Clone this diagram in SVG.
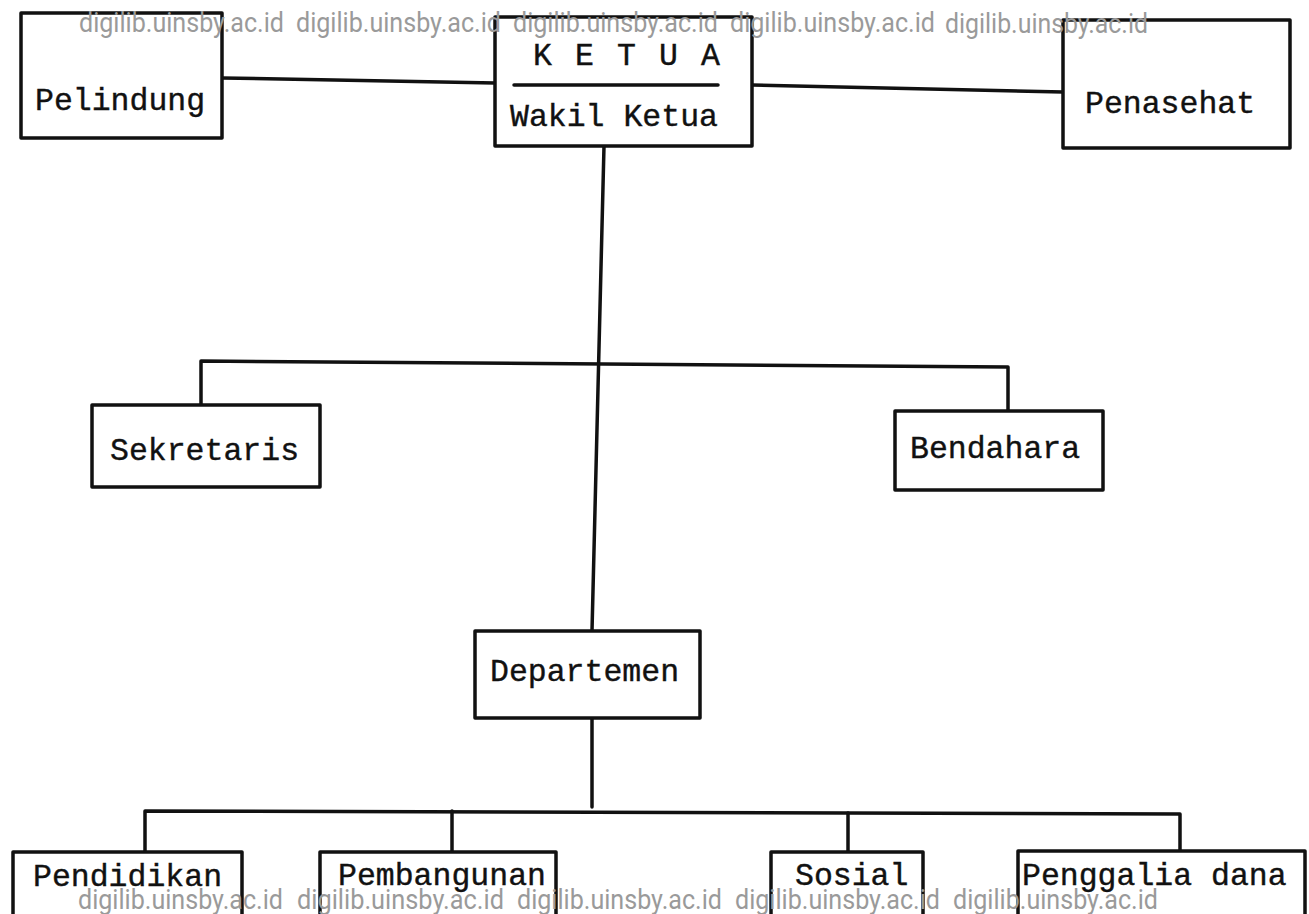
<svg xmlns="http://www.w3.org/2000/svg" width="1309" height="914" viewBox="0 0 1309 914">
<style>
.box{fill:#fff;stroke:#111;stroke-width:3.5;stroke-linejoin:round}
.ln{fill:none;stroke:#111;stroke-width:3.5;stroke-linecap:round;stroke-linejoin:round}
.t{font-family:"Liberation Mono","DejaVu Sans Mono",monospace;font-size:31.5px;fill:#111;stroke:#111;stroke-width:0.4}
.wm{font-family:Roboto,"Open Sans","Liberation Sans",sans-serif;font-size:27px;fill:#9a9a9a}
</style>
<rect width="1309" height="914" fill="#fff"/>
<g id="connectors">
<path class="ln" d="M222 78 L495 83"/>
<path class="ln" d="M752 85 L1063 92"/>
<path class="ln" d="M604 146 L592 631"/>
<path class="ln" d="M201 405 L201 361 L1008 367 L1008 411"/>
<path class="ln" d="M592 718 L592 807"/>
<path class="ln" d="M145 852 L145 811 L1180 814 L1180 851"/>
<path class="ln" d="M452 811 L452 851"/>
<path class="ln" d="M848 813 L848 852"/>
</g>
<g id="pelindung">
<rect class="box" x="21" y="13" width="201" height="125"/>
<text class="t" x="35" y="110">Pelindung</text>
</g>
<g id="ketua">
<rect class="box" x="495" y="17" width="257" height="129"/>
<text class="t" x="533" y="65" textLength="187" lengthAdjust="spacing">K E T U A</text>
<path class="ln" d="M514 85 L718 85"/>
<text class="t" x="510" y="126">Wakil Ketua</text>
</g>
<g id="penasehat">
<rect class="box" x="1063" y="20" width="227" height="128"/>
<text class="t" x="1085" y="113">Penasehat</text>
</g>
<g id="sekretaris">
<rect class="box" x="92" y="405" width="228" height="82"/>
<text class="t" x="110" y="460">Sekretaris</text>
</g>
<g id="bendahara">
<rect class="box" x="895" y="411" width="208" height="79"/>
<text class="t" x="910" y="458">Bendahara</text>
</g>
<g id="departemen">
<rect class="box" x="475" y="631" width="225" height="87"/>
<text class="t" x="490" y="681">Departemen</text>
</g>
<g id="pendidikan">
<rect class="box" x="13" y="852" width="229" height="80"/>
<text class="t" x="33" y="886">Pendidikan</text>
</g>
<g id="pembangunan">
<rect class="box" x="320" y="852" width="236" height="80"/>
<text class="t" x="338" y="885">Pembangunan</text>
</g>
<g id="sosial">
<rect class="box" x="771" y="852" width="152" height="80"/>
<text class="t" x="795" y="885">Sosial</text>
</g>
<g id="penggalia">
<rect class="box" x="1018" y="851" width="287" height="80"/>
<text class="t" x="1022" y="885">Penggalia dana</text>
</g>
<g id="watermark">
<text class="wm" x="79" y="32" textLength="205" lengthAdjust="spacingAndGlyphs">digilib.uinsby.ac.id</text>
<text class="wm" x="296" y="32" textLength="205" lengthAdjust="spacingAndGlyphs">digilib.uinsby.ac.id</text>
<text class="wm" x="513" y="32" textLength="205" lengthAdjust="spacingAndGlyphs">digilib.uinsby.ac.id</text>
<text class="wm" x="730" y="32" textLength="205" lengthAdjust="spacingAndGlyphs">digilib.uinsby.ac.id</text>
<text class="wm" x="945" y="33" textLength="203" lengthAdjust="spacingAndGlyphs">digilib.uinsby.ac.id</text>
<text class="wm" x="78" y="909" textLength="205" lengthAdjust="spacingAndGlyphs">digilib.uinsby.ac.id</text>
<text class="wm" x="297" y="909" textLength="207" lengthAdjust="spacingAndGlyphs">digilib.uinsby.ac.id</text>
<text class="wm" x="517" y="909" textLength="205" lengthAdjust="spacingAndGlyphs">digilib.uinsby.ac.id</text>
<text class="wm" x="735" y="909" textLength="205" lengthAdjust="spacingAndGlyphs">digilib.uinsby.ac.id</text>
<text class="wm" x="953" y="909" textLength="205" lengthAdjust="spacingAndGlyphs">digilib.uinsby.ac.id</text>
</g>
</svg>
